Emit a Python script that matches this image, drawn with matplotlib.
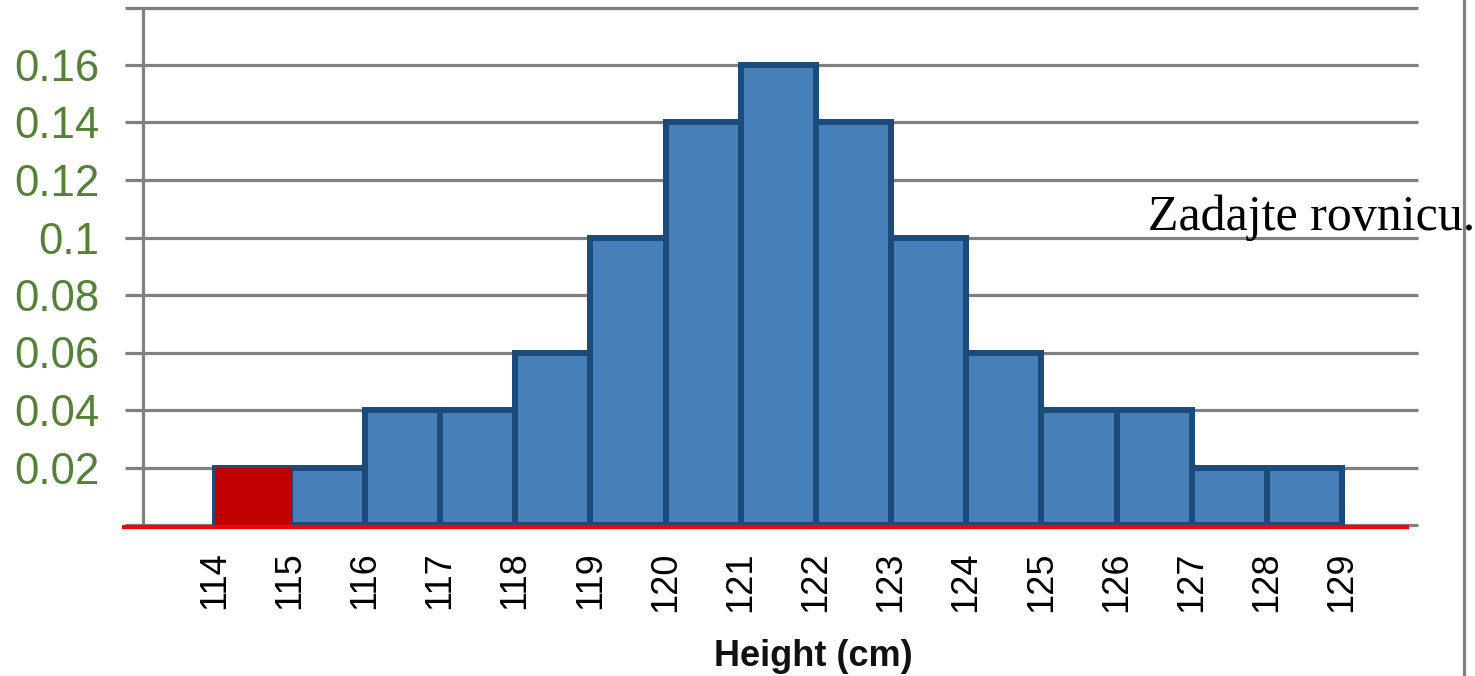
import matplotlib
matplotlib.use("Agg")
import matplotlib.pyplot as plt
from matplotlib.lines import Line2D

# Height distribution (relative frequency per 1 cm bin)
bin_edges = [114, 115, 116, 117, 118, 119, 120, 121, 122, 123, 124, 125, 126, 127, 128, 129]
rel_freq = [0.02, 0.02, 0.04, 0.04, 0.06, 0.10, 0.14, 0.16, 0.14, 0.10, 0.06, 0.04, 0.04, 0.02, 0.02]
highlight_bin = 0  # first bin drawn in red

y_ticks = [0.02, 0.04, 0.06, 0.08, 0.10, 0.12, 0.14, 0.16]
y_tick_labels = ["0.02", "0.04", "0.06", "0.08", "0.1", "0.12", "0.14", "0.16"]
grid_levels = [0.0, 0.02, 0.04, 0.06, 0.08, 0.10, 0.12, 0.14, 0.16, 0.18]
x_title = "Height (cm)"
side_note = "Zadajte rovnicu."

W, H = 1475, 676
fig = plt.figure(figsize=(W / 100, H / 100), dpi=100)
fig.patch.set_facecolor("white")

ax_left, ax_right, ax_bottom, ax_top = 122, 1418, 525, 7.5
ax = fig.add_axes([ax_left / W, (H - ax_bottom) / H,
                   (ax_right - ax_left) / W, (ax_bottom - ax_top) / H])
ax.set_facecolor("none")

x_lo, x_hi = 112.768, 130.011
ax.set_xlim(x_lo, x_hi)
ax.set_ylim(0, 0.18)
for s in ax.spines.values():
    s.set_visible(False)

grid_gray = "#808080"
ax.hlines(grid_levels, 112.808, x_hi, colors=grid_gray, linewidth=2.3,
          zorder=0, clip_on=False)
ax.plot([113.047, 113.047], [0, 0.18], color=grid_gray, linewidth=2.3,
        zorder=0.5, clip_on=False, solid_capstyle="butt")

# histogram bars
lefts = bin_edges[:-1]
widths = [b - a for a, b in zip(bin_edges[:-1], bin_edges[1:])]
ax.bar(lefts, rel_freq, width=widths, align="edge", color="#4780B9",
       edgecolor="#1B4A7B", linewidth=4.3, zorder=2)

# baseline
ax.plot([x_lo, 129.89], [-0.0006, -0.0006], color="#FF0000", linewidth=3.0,
        zorder=3, clip_on=False, solid_capstyle="butt")

# highlighted bin
ax.bar([lefts[highlight_bin]], [rel_freq[highlight_bin] + 0.0012],
       width=[widths[highlight_bin] + 0.03], bottom=-0.0012, align="edge",
       color="#C00000", linewidth=0, zorder=4)

ax.set_yticks(y_ticks)
ax.set_yticklabels(y_tick_labels, fontfamily="Liberation Sans", fontsize=31.5,
                   color="#548235")
ax.set_xticks(bin_edges)
ax.set_xticklabels([str(v) for v in bin_edges], rotation=90,
                   fontfamily="Liberation Sans", fontsize=26, color="black")
ax.tick_params(axis="y", length=0, pad=16.5)
ax.tick_params(axis="x", length=0, pad=19)

fig.text(813 / W, 1 - 656 / H, x_title, ha="center", va="center",
         fontfamily="Liberation Sans", fontweight="bold", fontsize=26,
         color="#111111")

fig.add_artist(Line2D([1464 / W, 1464 / W], [0, 1], color=grid_gray,
                      linewidth=2.3, transform=fig.transFigure))

fig.text(1148 / W, 1 - 230 / H, side_note, ha="left", va="baseline",
         fontfamily="Liberation Serif", fontsize=36, color="black")

fig.savefig("out.png", dpi=100)
